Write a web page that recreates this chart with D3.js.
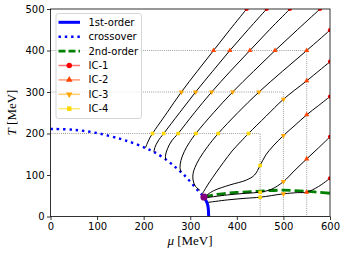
<!DOCTYPE html>
<html><head><meta charset="utf-8">
<script src="https://cdn.jsdelivr.net/npm/d3@7"></script>
<style>body{margin:0;background:#fff}svg{display:block}</style>
</head><body><svg id="c" width="345" height="257"></svg>
<script>
// ---------- data ----------
const xTicks = [0, 100, 200, 300, 400, 500, 600];
const yTicks = [0, 100, 200, 300, 400, 500];

const firstOrder = [[329.5,47],[333,40],[336,33],[338,25],[339,15],[339.5,0]];
const crossover = [[0,211],[50,209],[100,201],[150,187],[180,176],[206,164],[223,155],[247,138],[270,117],[285,102],[300,84],[317,62],[329.5,47]];
const secondOrder = [[329.5,47],[350,52],[375,55.5],[400,58],[450,61],[500,63.5],[550,60.5],[575,58.5],[600,56]];
const cep = [329.5, 47];

const traj1 = [[204,166],[208,177],[213,189],[219,200],[250,250],[281,300],[315,350],[350,400],[385,450],[421,500]];
const traj2 = [[222,155],[224,166],[231,182],[243,200],[277,250],[311.5,300],[348,350],[385,400],[424,450],[464,500]];
const traj3 = [[247,137],[247,148],[251,163],[260,182],[274,200],[309,250],[346,300],[386,350],[428,400],[470,450],[514,500]];
const traj4 = [[280,107],[278,118],[280,135],[287,156],[298,178],[312,200],[350,250],[391,300],[436,350],[482,400],[530,450],[578.6,500]];
const traj5 = [[321,63],[311,73],[306,88],[306,103],[310,118],[320,140],[337,168],[360,200],[402,250],[447.5,300],[498,350],[550,400],[600,449]];
const traj6 = [[326,55],[333,68],[342,84],[355,105],[371,130],[390,158],[408,180],[425,200],[463,242],[500,282.5],[550,327],[600,373]];
const traj7 = [[331,48],[350,62],[385,76],[421,88],[438,100],[450,123],[462,148],[478,170],[500,195],[525,220],[550,245],[575,267],[600,289]];
const traj8 = [[332,45],[380,52],[420,56],[450,58.6],[475,66],[500,84],[525,112],[550,138.8],[575,165],[600,192]];
const traj9 = [[338,34],[380,40],[420,44],[450,46.5],[500,54.6],[530,57.5],[550,58.6],[575,72],[600,92]];
const trajectories = [traj1, traj2, traj3, traj4, traj5, traj6, traj7, traj8, traj9];

const ic1 = [[421,500],[464,500],[514,500],[578.6,500],[600,449],[600,373],[600,289],[600,192],[600,92]];
const ic2 = [[350,400],[385,400],[428,400],[482,400],[550,400],[550,327],[550,245],[550,138.8],[550,58.6]];
const ic3 = [[281,300],[311.5,300],[346,300],[391,300],[447.5,300],[500,282.5],[500,195],[500,84],[500,54.6]];
const ic4 = [[219,200],[243,200],[274,200],[312,200],[360,200],[425,200],[450,123],[450,58.6],[450,46.5]];

const guides = [[[0,400],[550,400],[550,0]], [[0,300],[500,300],[500,0]], [[0,200],[450,200],[450,0]]];

const legendLabels = ["1st-order", "crossover", "2nd-order", "IC-1", "IC-2", "IC-3", "IC-4"];
const icColors = ["#ff0000", "#ff4500", "#ffa500", "#ffd700"];

// ---------- drawing ----------
const svg = d3.select("#c");
const x = d3.scaleLinear().domain([0, 600]).range([50.5, 330]);
const y = d3.scaleLinear().domain([0, 500]).range([216.5, 9]);

svg.append("defs").append("clipPath").attr("id", "clip")
  .append("rect").attr("x", 50.5).attr("y", 9).attr("width", 279.5).attr("height", 207.5);

const line = d3.line().x(d => x(d[0])).y(d => y(d[1]));
const smooth = d3.line().x(d => x(d[0])).y(d => y(d[1])).curve(d3.curveCatmullRom.alpha(0.5));

const plot = svg.append("g").attr("clip-path", "url(#clip)");

// guides
guides.forEach(g => plot.append("path").attr("d", line(g))
  .attr("fill", "none").attr("stroke", "#666").attr("stroke-width", 0.8)
  .attr("stroke-dasharray", "0.8,1.3"));

// phase lines
plot.append("path").attr("d", smooth(crossover)).attr("fill", "none")
  .attr("stroke", "#0000ff").attr("stroke-width", 2.4).attr("stroke-dasharray", "2.4,3.9");
plot.append("path").attr("d", smooth(firstOrder)).attr("fill", "none")
  .attr("stroke", "#0000ff").attr("stroke-width", 3);
plot.append("path").attr("d", smooth(secondOrder)).attr("fill", "none")
  .attr("stroke", "#008000").attr("stroke-width", 2.8).attr("stroke-dasharray", "9,4");

// trajectories
trajectories.forEach(t => plot.append("path").attr("d", smooth(t))
  .attr("fill", "none").attr("stroke", "#000").attr("stroke-width", 1));

// markers
const triDown = {draw(ctx, size){ const s = Math.sqrt(size / (Math.sqrt(3)/4)); const h = s*Math.sqrt(3)/2;
  ctx.moveTo(0, h*2/3); ctx.lineTo(-s/2, -h/3); ctx.lineTo(s/2, -h/3); ctx.closePath(); }};
const symbols = [d3.symbolCircle, d3.symbolTriangle, triDown, d3.symbolSquare];
const sizesPlot = [14, 12, 12, 13];
const sizesLeg = [24, 19, 19, 20];
[ic1, ic2, ic3, ic4].forEach((pts, i) => {
  plot.selectAll(null).data(pts).enter().append("path")
    .attr("d", d3.symbol().type(symbols[i]).size(sizesPlot[i]))
    .attr("transform", d => `translate(${x(d[0])},${y(d[1])})`)
    .attr("fill", icColors[i]);
});

// critical point
svg.append("circle").attr("cx", x(cep[0])).attr("cy", y(cep[1])).attr("r", 3.6).attr("fill", "#800080");

// axes
const xAxis = svg.append("g").attr("transform", "translate(0,216.5)")
  .call(d3.axisBottom(x).tickValues(xTicks).tickSize(3.5).tickPadding(3));
const yAxis = svg.append("g").attr("transform", "translate(50.5,0)")
  .call(d3.axisLeft(y).tickValues(yTicks).tickSize(3.5).tickPadding(2.5));
[xAxis, yAxis].forEach(a => {
  a.select(".domain").remove();
  a.selectAll("line").attr("stroke", "#000").attr("stroke-width", 0.8);
  a.selectAll("text").attr("font-family", "DejaVu Sans").attr("font-size", 10).attr("fill", "#000");
});
// spines
svg.append("rect").attr("x", 50.5).attr("y", 9).attr("width", 279.5).attr("height", 207.5)
  .attr("fill", "none").attr("stroke", "#000").attr("stroke-width", 0.8);

// axis labels
const xl = svg.append("text").attr("x", 190).attr("y", 244.5).attr("text-anchor", "middle")
  .attr("font-family", "Liberation Serif").attr("font-size", 13);
xl.append("tspan").attr("font-style", "italic").text("μ");
xl.append("tspan").text(" [MeV]");
const yl = svg.append("text").attr("transform", "translate(16,112.5) rotate(-90)").attr("text-anchor", "middle")
  .attr("font-family", "Liberation Serif").attr("font-size", 13);
yl.append("tspan").attr("font-style", "italic").text("T");
yl.append("tspan").text(" [MeV]");

// legend
const lg = svg.append("g");
lg.append("rect").attr("x", 56).attr("y", 13.5).attr("width", 85.5).attr("height", 105)
  .attr("rx", 2.5).attr("fill", "#fff").attr("fill-opacity", 0.8).attr("stroke", "#ccc").attr("stroke-width", 0.8);
const rowY = i => 22.3 + i * 14.4;
const lx0 = 58.5, lx1 = 80, ltx = 88.5;
lg.append("line").attr("x1", lx0).attr("x2", lx1).attr("y1", rowY(0)).attr("y2", rowY(0))
  .attr("stroke", "#0000ff").attr("stroke-width", 3);
lg.append("line").attr("x1", lx0).attr("x2", lx1).attr("y1", rowY(1)).attr("y2", rowY(1))
  .attr("stroke", "#0000ff").attr("stroke-width", 2.4).attr("stroke-dasharray", "2.4,3.9");
lg.append("line").attr("x1", lx0).attr("x2", lx1).attr("y1", rowY(2)).attr("y2", rowY(2))
  .attr("stroke", "#008000").attr("stroke-width", 2.8).attr("stroke-dasharray", "7,3");
icColors.forEach((c, i) => {
  const yy = rowY(i + 3);
  lg.append("line").attr("x1", lx0).attr("x2", lx1).attr("y1", yy).attr("y2", yy)
    .attr("stroke", c).attr("stroke-opacity", 0.55).attr("stroke-width", 1.5);
  lg.append("path").attr("d", d3.symbol().type(symbols[i]).size(sizesLeg[i]))
    .attr("transform", `translate(${(lx0 + lx1) / 2},${yy})`).attr("fill", c);
});
legendLabels.forEach((t, i) => lg.append("text").attr("x", ltx).attr("y", rowY(i)).attr("dy", "0.35em")
  .attr("font-family", "DejaVu Sans").attr("font-size", 10).attr("fill", "#000").text(t));
</script></body></html>
